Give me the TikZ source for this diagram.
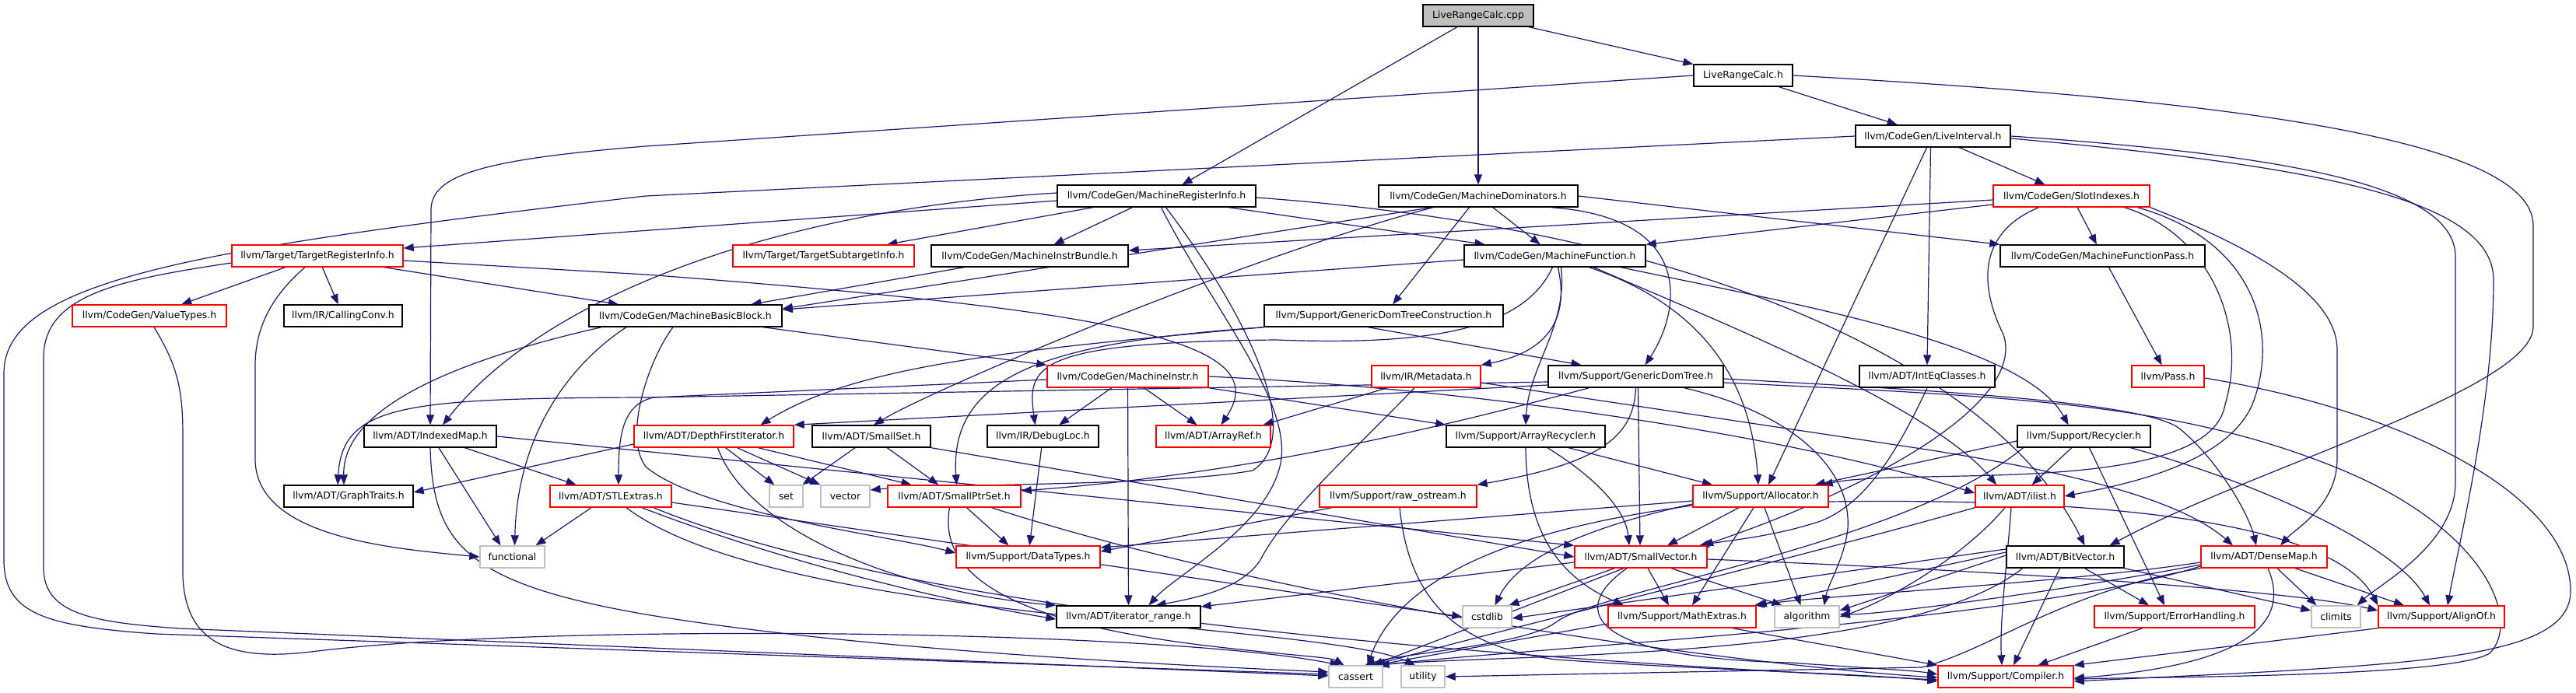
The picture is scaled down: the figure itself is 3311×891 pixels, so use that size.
\documentclass[tikz,border=0pt]{standalone}
\usepackage{fontspec}
\setmainfont{DejaVu Sans}
\usetikzlibrary{arrows.meta}
\definecolor{edgec}{HTML}{191970}
\definecolor{redb}{HTML}{FF0000}
\definecolor{grayb}{HTML}{BFBFBF}
\pgfdeclarelayer{bgl}
\pgfdeclarelayer{edl}
\pgfsetlayers{bgl,edl,main}
\newcommand\nfnt{\fontsize{12.4}{14}\selectfont}
\tikzset{
 nk/.style={draw=black,line width=1.4pt,fill=white,minimum height=28pt,inner sep=0pt,font=\nfnt},
 nr/.style={nk,draw=redb},
 ng/.style={nk,draw=grayb},
 e/.style={draw=edgec,line width=1.2pt,-{Triangle[length=13pt,width=10pt]}}
}
\begin{document}
\begin{tikzpicture}[x=1pt,y=-1pt]
\begin{pgfonlayer}{bgl}
\fill[white] (0,0) rectangle (3311,891);
\end{pgfonlayer}
\useasboundingbox (0,0) rectangle (3311,891);
% nodes
\node[nk,fill=grayb,minimum width=142] (root) at (1900,20) {LiveRangeCalc.cpp};
\node[nk,minimum width=127] (LRCh) at (2240.5,97) {LiveRangeCalc.h};
\node[nk,minimum width=199] (LI) at (2484.5,175) {llvm/CodeGen/LiveInterval.h};
\node[nk,minimum width=255] (MRI) at (1486.5,252) {llvm/CodeGen/MachineRegisterInfo.h};
\node[nk,minimum width=256] (MDom) at (1900,252) {llvm/CodeGen/MachineDominators.h};
\node[nr,minimum width=201] (SI) at (2662.5,252) {llvm/CodeGen/SlotIndexes.h};
\node[nr,minimum width=220] (TRI) at (408,329) {llvm/Target/TargetRegisterInfo.h};
\node[nr,minimum width=233] (TSI) at (1058.5,329) {llvm/Target/TargetSubtargetInfo.h};
\node[nk,minimum width=253] (MIB) at (1323.5,329) {llvm/CodeGen/MachineInstrBundle.h};
\node[nk,minimum width=233] (MF) at (1998.5,329) {llvm/CodeGen/MachineFunction.h};
\node[nk,minimum width=263] (MFP) at (2702.5,329) {llvm/CodeGen/MachineFunctionPass.h};
\node[nr,minimum width=198] (VT) at (192,406) {llvm/CodeGen/ValueTypes.h};
\node[nk,minimum width=152] (CC) at (441,406) {llvm/IR/CallingConv.h};
\node[nk,minimum width=248] (MBB) at (881,406) {llvm/CodeGen/MachineBasicBlock.h};
\node[nk,minimum width=307] (GDTC) at (1778.5,406) {llvm/Support/GenericDomTreeConstruction.h};
\node[nr,minimum width=93] (Pass) at (2786.5,484) {llvm/Pass.h};
\node[nr,minimum width=207] (MI) at (1449.5,484) {llvm/CodeGen/MachineInstr.h};
\node[nr,minimum width=140] (MD) at (1833,484) {llvm/IR/Metadata.h};
\node[nk,minimum width=225] (GDT) at (2102.5,484) {llvm/Support/GenericDomTree.h};
\node[nk,minimum width=174] (IEC) at (2477,484) {llvm/ADT/IntEqClasses.h};
\node[nk,minimum width=170] (IM) at (553,561) {llvm/ADT/IndexedMap.h};
\node[nr,minimum width=205] (DFI) at (917.5,561) {llvm/ADT/DepthFirstIterator.h};
\node[nk,minimum width=152] (SS) at (1120,561) {llvm/ADT/SmallSet.h};
\node[nk,minimum width=143] (DL) at (1340.5,561) {llvm/IR/DebugLoc.h};
\node[nr,minimum width=147] (AR) at (1559.5,561) {llvm/ADT/ArrayRef.h};
\node[nk,minimum width=204] (ARec) at (1961,561) {llvm/Support/ArrayRecycler.h};
\node[nk,minimum width=171] (Rec) at (2678.5,561) {llvm/Support/Recycler.h};
\node[nk,minimum width=166] (GT) at (448,638) {llvm/ADT/GraphTraits.h};
\node[nr,minimum width=156] (STL) at (785,638) {llvm/ADT/STLExtras.h};
\node[ng,minimum width=43] (set) at (1010.5,638) {set};
\node[ng,minimum width=63] (vector) at (1086.5,638) {vector};
\node[nr,minimum width=171] (SPS) at (1226.5,638) {llvm/ADT/SmallPtrSet.h};
\node[nr,minimum width=202] (ROS) at (1797,638) {llvm/Support/raw\_ostream.h};
\node[nr,minimum width=174] (Alloc) at (2263,638) {llvm/Support/Allocator.h};
\node[nr,minimum width=114] (ilist) at (2596,638) {llvm/ADT/ilist.h};
\node[ng,minimum width=83] (functional) at (658.5,716) {functional};
\node[nr,minimum width=185] (DT) at (1321.5,716) {llvm/Support/DataTypes.h};
\node[nr,minimum width=170] (SV) at (2109,716) {llvm/ADT/SmallVector.h};
\node[nk,minimum width=151] (BV) at (2654.5,716) {llvm/ADT/BitVector.h};
\node[nr,minimum width=162] (DM) at (2910,716) {llvm/ADT/DenseMap.h};
\node[nk,minimum width=185] (IR) at (1450.5,793) {llvm/ADT/iterator\_range.h};
\node[ng,minimum width=63] (cstdlib) at (1911.5,793) {cstdlib};
\node[nr,minimum width=190] (ME) at (2162,793) {llvm/Support/MathExtras.h};
\node[ng,minimum width=83] (algorithm) at (2322.5,793) {algorithm};
\node[nr,minimum width=206] (EH) at (2795,793) {llvm/Support/ErrorHandling.h};
\node[ng,minimum width=63] (climits) at (3002.5,793) {climits};
\node[nr,minimum width=162] (AO) at (3138,793) {llvm/Support/AlignOf.h};
\node[ng,minimum width=69] (cassert) at (1742.5,870) {cassert};
\node[ng,minimum width=56] (utility) at (1829,870) {utility};
\node[nr,minimum width=174] (Comp) at (2578,870) {llvm/Support/Compiler.h};
% edges
\begin{pgfonlayer}{edl}
% root
\draw[e] ([xshift=-27]root.south) -- ([xshift=33]MRI.north);
\draw[e] (root) -- (MDom);
\draw[e] (root) -- (LRCh);
% LiveRangeCalc.h
\draw[e] (LRCh) -- (LI);
\draw[e] (LRCh.west) -- (830,188) .. controls (620,205) and (554,225) .. (554,270) -- (IM.north);
\draw[e] (LRCh.east) .. controls (2800,125) and (3256,170) .. (3256,290) -- (3256,420) .. controls (3256,500) and (2900,600) .. ([xshift=57]BV.north);
% LiveInterval.h
\draw[e] (LI) -- (SI);
\draw[e] ([xshift=-3]LI.south) -- (IEC.north);
\draw[e] ([xshift=-8]LI.south) -- ([xshift=10]Alloc.north);
\draw[e] (LI.west) -- (830,252) .. controls (250,320) and (5,360) .. (5,480) -- (5,720) .. controls (5,790) and (60,805) .. (200,815) -- ([yshift=3]cassert.west);
\draw[e] (LI.east) .. controls (2950,200) and (3156,240) .. (3156,330) -- (3156,620) .. controls (3156,700) and (3060,750) .. ([xshift=-5]climits.north east);
\draw[e] ([yshift=-3]LI.east) .. controls (3000,215) and (3205,260) .. (3205,360) .. controls (3205,520) and (3160,700) .. ([xshift=8]AO.north);
% MachineRegisterInfo.h
\draw[e] (MRI) -- (TSI);
\draw[e] (MRI) -- (MIB);
\draw[e] ([yshift=-6]MRI.west) -- ([yshift=10]TRI.east);
\draw[e] ([yshift=4]MRI.west) .. controls (1000,270) and (700,380) .. ([xshift=16]IM.north);
\draw[e] ([xshift=93]MRI.south) -- ([xshift=-90]MF.north);
\draw[e] ([yshift=-2]MRI.east) .. controls (2250,300) and (2580,500) .. ([xshift=25]BV.north);
\draw[e] ([xshift=6]MRI.south) .. controls (1560,400) and (1665,520) .. (1645,600) .. controls (1625,680) and (1510,740) .. ([xshift=26]IR.north);
\draw[e] ([xshift=12]MRI.south) .. controls (1600,400) and (1680,560) .. (1610,605) .. controls (1500,625) and (1200,622) .. ([yshift=8]vector.east);
% MachineDominators.h
\draw[e] (MDom) -- (MF);
\draw[e] (MDom) -- (GDTC);
\draw[e] ([xshift=-60]MDom.south) -- ([yshift=9]MBB.east);
\draw[e] ([xshift=-58]MDom.south) .. controls (1600,330) and (1200,500) .. ([xshift=3]SS.north);
\draw[e] (MDom.east) -- (MFP.north west);
\draw[e] ([xshift=94]MDom.south) .. controls (2180,280) and (2160,400) .. ([xshift=12]GDT.north);
% SlotIndexes.h
\draw[e] ([yshift=-5]SI.west) -- ([yshift=7]MIB.east);
\draw[e] ([yshift=-11]SI.west) -- (MF.north east);
\draw[e] (SI) -- (MFP);
\draw[e] ([xshift=-42]SI.south) .. controls (2540,300) and (2545,370) .. (2575,430) .. controls (2605,520) and (2400,630) .. ([xshift=80]SV.north);
\draw[e] ([xshift=68]SI.south) .. controls (2840,300) and (2890,420) .. (2860,520) .. controls (2840,640) and (2450,600) .. ([xshift=-8]Alloc.north east);
\draw[e] ([xshift=85]SI.south) .. controls (2900,310) and (2930,430) .. (2895,520) .. controls (2860,600) and (2720,625) .. (ilist.east);
\draw[e] (SI.south east) .. controls (2900,320) and (3004,380) .. (3004,450) -- (3004,590) .. controls (3004,650) and (2950,680) .. ([xshift=21]DM.north);
% TargetRegisterInfo.h
\draw[e] (TRI) -- (VT);
\draw[e] (TRI) -- (CC);
\draw[e] ([xshift=86]TRI.south) -- ([xshift=-86]MBB.north);
\draw[e] ([xshift=-16]TRI.south) .. controls (350,380) and (328,420) .. (328,470) -- (328,590) .. controls (328,690) and (500,705) .. (functional.west);
\draw[e] ([yshift=-9]TRI.west) .. controls (150,360) and (56,380) .. (56,460) -- (56,730) .. controls (56,790) and (120,800) .. (230,808) -- ([yshift=1]cassert.west);
\draw[e] ([yshift=-6]TRI.east) -- (830,353) .. controls (1450,400) and (1640,440) .. ([xshift=10]AR.north);
% ValueTypes.h
\draw[e] ([xshift=6]VT.south) .. controls (228,470) and (235,500) .. (235,560) -- (235,740) .. controls (238,830) and (300,850) .. (400,838) .. controls (700,800) and (1500,810) .. ([xshift=-20]cassert.north);
% MachineBasicBlock.h
\draw[e] ([xshift=100]MBB.south) -- (MI.north west);
\draw[e] ([xshift=-108]MBB.south) .. controls (600,460) and (440,520) .. ([xshift=-6]GT.north);
\draw[e] ([xshift=-76]MBB.south) .. controls (730,470) and (665,560) .. ([xshift=3]functional.north);
\draw[e] ([xshift=-16]MBB.south) .. controls (835,460) and (800,560) .. (830,600) .. controls (900,660) and (1150,690) .. ([yshift=5]DT.west);
\draw[e] (MIB) -- (MBB);
\draw[e] ([yshift=-5]MF.west) -- ([yshift=8]MBB.east);
% GenericDomTreeConstruction.h
\draw[e] ([xshift=-20]GDTC.south) -- ([xshift=-70]GDT.north);
\draw[e] (GDTC.south west) .. controls (1350,440) and (1220,480) .. ([xshift=3]SPS.north);
\draw[e] (GDTC.south west) .. controls (1300,450) and (1100,470) .. ([xshift=60]DFI.north);
% GenericDomTree.h
\draw[e] ([yshift=-7]GDT.west) -- (830,511) .. controls (520,512) and (440,520) .. ([xshift=-14]GT.north);
\draw[e] ([yshift=-11]GDT.west) -- (DFI.north east);
\draw[e] ([xshift=-60]GDT.south) .. controls (1850,550) and (1600,610) .. ([yshift=7]SPS.east);
\draw[e] (GDT.south) .. controls (2100,560) and (2060,595) .. (ROS.north east);
\draw[e] ([xshift=3]GDT.south) -- ([xshift=-1]SV.north);
\draw[e] ([xshift=62]GDT.south) .. controls (2300,530) and (2380,600) .. (2375,680) .. controls (2370,720) and (2350,750) .. ([xshift=22]algorithm.north);
\draw[e] ([yshift=-3]GDT.east) .. controls (2450,500) and (2750,515) .. (2800,550) .. controls (2850,590) and (2890,660) .. ([xshift=-10]DM.north);
\draw[e] ([yshift=-8]GDT.east) .. controls (2600,510) and (2800,520) .. (3000,600) .. controls (3200,680) and (3240,800) .. (3200,840) .. controls (3150,870) and (2800,870) .. ([yshift=-3]Comp.east);
% IntEqClasses.h
\draw[e] (IEC.south) .. controls (2430,600) and (2390,650) .. (2340,670) .. controls (2280,690) and (2220,695) .. ([xshift=75]SV.north);
% IndexedMap.h
\draw[e] (IM) -- (STL);
\draw[e] ([xshift=11]IM.south) -- ([xshift=-15]functional.north);
\draw[e] (IM.south) .. controls (556,700) and (600,750) .. (830,790) .. controls (1100,835) and (1500,855) .. ([yshift=6]cassert.west);
\draw[e] (IM.east) -- (SV.north west);
% SmallSet.h
\draw[e] (SS) -- (set);
\draw[e] (SS) -- (SPS);
\draw[e] (SS.south east) -- (SV.west);
% DebugLoc.h
\draw[e] (DL) -- (DT);
% MachineInstr.h
\draw[e] (MI) -- (DL);
\draw[e] (MI) -- (IR);
\draw[e] (MI) -- (AR);
\draw[e] ([yshift=-4]MI.west) -- (840,511) .. controls (800,520) and (795,560) .. ([xshift=10]STL.north);
\draw[e] (MI.south east) -- (ARec.north west);
\draw[e] (MI.east) .. controls (1900,500) and (2300,560) .. ([yshift=4]ilist.west);
% Metadata.h
\draw[e] ([xshift=-50]MD.south) -- ([xshift=-10]AR.north east);
\draw[e] ([xshift=-15]MD.south) .. controls (1740,580) and (1650,660) .. (1620,720) .. controls (1600,750) and (1560,765) .. ([xshift=35]IR.north);
\draw[e] ([yshift=-8]MD.east) -- (2470,577) .. controls (2650,605) and (2800,640) .. ([xshift=-40]DM.north);
% MachineFunction.h
\draw[e] ([xshift=4]MF.south) .. controls (2015,400) and (2000,450) .. (MD.north east);
\draw[e] ([xshift=-3]MF.south) .. controls (1960,420) and (1850,445) .. (1640,437) .. controls (1330,440) and (1320,470) .. ([xshift=-10]DL.north);
\draw[e] ([xshift=8]MF.south) .. controls (2015,420) and (1965,470) .. (ARec.north);
\draw[e] ([xshift=44]MF.south) .. controls (2180,390) and (2250,480) .. ([xshift=-3]Alloc.north);
\draw[e] ([xshift=50]MF.south) .. controls (2200,410) and (2480,520) .. ([xshift=-30]ilist.north);
\draw[e] ([xshift=85]MF.south) .. controls (2300,390) and (2600,440) .. ([xshift=-20]Rec.north);
% Recycler.h
\draw[e] (Rec) -- (ilist);
\draw[e] ([xshift=7]Rec.south) -- ([xshift=-13]EH.north);
\draw[e] ([xshift=60]Rec.south) .. controls (2900,620) and (3080,700) .. ([xshift=-15]AO.north);
\draw[e] ([yshift=-6]Rec.west) -- ([xshift=-18]Alloc.north east);
\draw[e] ([xshift=-78]Rec.south) .. controls (2450,700) and (2050,760) .. (2000,800) .. controls (1960,830) and (1800,840) .. ([xshift=12]cassert.north);
% ArrayRecycler.h
\draw[e] ([xshift=28]ARec.south) .. controls (2060,620) and (2090,660) .. ([xshift=-15]SV.north);
\draw[e] ([xshift=55]ARec.south) -- ([xshift=-62]Alloc.north);
\draw[e] (ARec.south) .. controls (1962,680) and (2000,740) .. ([xshift=-75]ME.north);
% DepthFirstIterator.h
\draw[e] ([yshift=-10]DFI.west) -- ([yshift=5]GT.east);
\draw[e] ([xshift=15]DFI.south) -- ([xshift=-15]set.north);
\draw[e] ([xshift=30]DFI.south) -- (vector.north west);
\draw[e] ([xshift=57]DFI.south) -- ([xshift=-55]SPS.north);
\draw[e] ([xshift=5]DFI.south) .. controls (960,680) and (1150,760) .. (IR.north west);
% STLExtras.h
\draw[e] ([xshift=-25]STL.south) -- ([xshift=30]functional.north);
\draw[e] ([yshift=-8]STL.east) -- (cstdlib.west);
\draw[e] ([xshift=40]STL.south) .. controls (1000,720) and (1200,770) .. ([yshift=-3]IR.west);
\draw[e] ([xshift=55]STL.south) .. controls (1200,800) and (2000,850) .. ([yshift=-4]Comp.west);
\draw[e] ([xshift=20]STL.south) .. controls (1000,800) and (1700,800) .. ([xshift=-10]utility.north);
% SmallPtrSet.h
\draw[e] ([xshift=16]SPS.south) -- ([xshift=-25]DT.north);
\draw[e] ([xshift=-6]SPS.south) .. controls (1205,740) and (1300,800) .. (1550,830) .. controls (1650,842) and (1710,845) .. ([xshift=-15]cassert.north);
\draw[e] ([xshift=48]SPS.south) .. controls (1700,790) and (2300,860) .. ([yshift=-1]Comp.west);
% raw_ostream.h
\draw[e] ([xshift=-85]ROS.south) -- ([yshift=7]DT.east);
\draw[e] ([xshift=2]ROS.south) .. controls (1810,760) and (1860,830) .. (2000,848) .. controls (2200,862) and (2400,866) .. ([yshift=-6]Comp.west);
% Allocator.h
\draw[e] ([xshift=-28]Alloc.south) -- ([xshift=34]SV.north);
\draw[e] ([xshift=-9]Alloc.south) -- ([xshift=13]ME.north);
\draw[e] ([xshift=5]Alloc.south) -- ([xshift=-8]algorithm.north);
\draw[e] ([yshift=-7]Alloc.east) .. controls (2700,640) and (3000,670) .. (AO.north west);
\draw[e] ([yshift=-6]Alloc.west) -- ([yshift=12]DT.east);
\draw[e] ([yshift=-10]Alloc.west) .. controls (2030,680) and (1950,720) .. ([xshift=10]cstdlib.north);
\draw[e] ([yshift=-12]Alloc.west) .. controls (1950,680) and (1800,740) .. ([xshift=15]cassert.north);
% ilist.h
\draw[e] ([xshift=-11]ilist.south) .. controls (2580,720) and (2570,800) .. ([xshift=-5]Comp.north);
\draw[e] ([xshift=-19]ilist.south) .. controls (2520,720) and (2420,775) .. (algorithm.east);
\draw[e] (ilist.south west) .. controls (2300,720) and (1850,830) .. ([xshift=25]cassert.north);
% SmallVector.h
\draw[e] ([xshift=-34]SV.south) -- ([xshift=28]cstdlib.north);
\draw[e] ([xshift=9]SV.south) -- ([xshift=-17]ME.north);
\draw[e] ([xshift=39]SV.south) -- ([xshift=-32]algorithm.north);
\draw[e] ([xshift=-22]SV.south) -- ([xshift=22]cassert.north);
\draw[e] ([xshift=-18]SV.south) .. controls (2020,780) and (2030,845) .. (2300,852) .. controls (2400,859) and (2460,862) .. ([yshift=3]Comp.west);
\draw[e] ([yshift=-7]SV.west) -- ([yshift=13]IR.east);
\draw[e] ([yshift=-3]SV.east) .. controls (2600,735) and (2950,760) .. ([yshift=8]AO.west);
% MathExtras.h, ErrorHandling.h, AlignOf.h
\draw[e] ([yshift=-9]ME.west) -- ([xshift=25]cassert.north);
\draw[e] ([xshift=65]ME.south) -- (Comp.north west);
\draw[e] (EH) -- (Comp);
\draw[e] (AO.south west) -- (Comp.north east);
% DenseMap.h
\draw[e] ([xshift=17]DM.south) -- ([xshift=-25]climits.north);
\draw[e] ([xshift=40]DM.south) -- ([xshift=-48]AO.north);
\draw[e] ([xshift=5]DM.south) .. controls (2945,800) and (2890,855) .. ([yshift=-2]Comp.east);
\draw[e] ([yshift=-7]DM.west) .. controls (2650,750) and (2350,765) .. ([xshift=-3]ME.north east);
\draw[e] ([yshift=-10]DM.west) .. controls (2650,760) and (2420,790) .. ([yshift=3]algorithm.east);
\draw[e] ([yshift=-12]DM.west) .. controls (2600,800) and (2000,830) .. ([xshift=30]cassert.north);
\draw[e] (DM.south west) .. controls (2650,760) and (2560,835) .. (2470,858) -- (utility.east);
% BitVector.h
\draw[e] ([xshift=25]BV.south) -- ([xshift=-33]EH.north);
\draw[e] ([xshift=-7]BV.south) -- ([xshift=10]Comp.north);
\draw[e] (BV.south east) -- ([yshift=8]climits.west);
\draw[e] ([yshift=10]BV.west) -- ([yshift=-2]cstdlib.east);
\draw[e] ([yshift=2]BV.west) -- ([yshift=8]algorithm.east);
\draw[e] ([yshift=6]BV.west) -- (ME.north east);
\draw[e] ([xshift=-55]BV.south) .. controls (2450,850) and (1950,840) .. ([xshift=22]cassert.north);
% Pass.h
\draw[e] (MFP) -- (Pass);
\draw[e] ([yshift=-2]Pass.east) .. controls (3100,530) and (3304,640) .. (3304,760) .. controls (3304,850) and (3100,855) .. ([yshift=-6]Comp.east);
\end{pgfonlayer}
\end{tikzpicture}
\end{document}
